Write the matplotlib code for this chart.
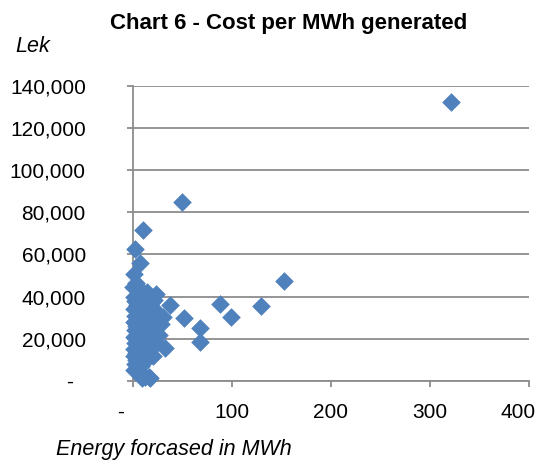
import matplotlib
matplotlib.use("Agg")
import matplotlib.pyplot as plt
from matplotlib.ticker import FuncFormatter
from matplotlib.transforms import ScaledTranslation

plt.rcParams['font.family'] = ['Liberation Sans', 'DejaVu Sans']

title = "Chart 6 - Cost per MWh generated"
y_label = "Lek"
x_label = "Energy forcased in MWh"

energy_mwh = [
    321, 49, 10, 2, 7, 1, 3, 0.5, 153, 88, 99, 129, 68, 68, 37, 52, 32, 23, 12, 3,
    1, 2, 4, 1, 6, 2, 9, 1, 5, 12, 2, 8, 15, 1, 4, 11, 2, 7, 18, 1,
    3, 10, 1, 5, 14, 2, 8, 1, 17, 6, 14, 10, 18, 20, 25, 15, 22, 28, 19, 26,
    17, 24, 13, 20, 9, 6, 12, 16, 30, 9, 16, 4, 21, 11, 7, 3,
]
cost_lek = [
    132000, 85000, 71500, 62500, 56000, 50500, 46500, 44500, 47500, 36400, 30200, 35600, 25100, 18500, 35800, 30000, 15500, 41000, 2000, 10000,
    40000, 38000, 36000, 34000, 33000, 31000, 30000, 28000, 27000, 26000, 24000, 23500, 22000, 21000, 20000, 19000, 18000, 17000, 16500, 15000,
    13500, 13000, 12000, 11000, 10500, 8000, 7000, 5000, 1500, 3500, 42000, 39000, 37000, 34000, 32000, 31000, 28000, 27000, 25000, 22000,
    20000, 18000, 15000, 12000, 24000, 44000, 36500, 28500, 30500, 1500, 2000, 6000, 38500, 33500, 42500, 26000,
]

x_ticks = [0, 100, 200, 300, 400]
y_ticks = [0, 20000, 40000, 60000, 80000, 100000, 120000, 140000]

W, H = 541, 471
fig = plt.figure(figsize=(W / 100, H / 100), dpi=100)
ax = fig.add_axes([133 / W, (H - 381) / H, 396 / W, 295.5 / H])

ax.scatter(energy_mwh, cost_lek, marker='D', s=9.5 ** 2, color='#4F81BD',
           linewidths=0, zorder=3, clip_on=False)

ax.set_xlim(0, 400)
ax.set_ylim(0, 140000)
ax.set_xticks(x_ticks)
ax.set_yticks(y_ticks)


def yfmt(v, pos):
    return "-  " if v == 0 else f"{int(v):,}"


def xfmt(v, pos):
    return "-    " if v == 0 else f"{int(v)}"


ax.yaxis.set_major_formatter(FuncFormatter(yfmt))
ax.xaxis.set_major_formatter(FuncFormatter(xfmt))

grid_c = '#8c8c8c'
ax.grid(axis='y', color=grid_c, linewidth=1.3, zorder=1)
ax.grid(axis='x', visible=False)
for s in ['top', 'right']:
    ax.spines[s].set_visible(False)
for s in ['left', 'bottom']:
    ax.spines[s].set_color(grid_c)
    ax.spines[s].set_linewidth(1.3)
ax.tick_params(axis='both', direction='out', length=4, width=1.3, color=grid_c,
               labelsize=15, labelcolor='black')
ax.tick_params(axis='y', pad=30)
ax.tick_params(axis='x', pad=12)

# Excel nudges the last x label inward so it stays inside the chart area
last = ax.get_xticklabels()[-1]
last.set_transform(last.get_transform() + ScaledTranslation(-11 / 100, 0, fig.dpi_scale_trans))

fig.text(288.5 / W, (H - 29) / H, title, ha='center', va='baseline',
         fontsize=16, fontweight='bold')
fig.text(15 / W, (H - 52) / H, y_label, ha='left', va='baseline',
         fontsize=15.5, style='italic')
fig.text(56 / W, (H - 455) / H, x_label, ha='left', va='baseline',
         fontsize=15.5, style='italic')

fig.savefig("out.png", dpi=100)
